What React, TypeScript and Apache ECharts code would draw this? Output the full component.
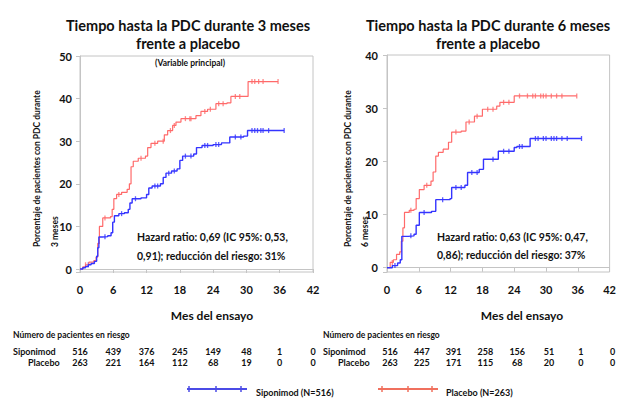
import React, { useEffect, useRef } from 'react';
import * as echarts from 'echarts';

// ---------- data ----------
const monthTicks = [0, 6, 12, 18, 24, 30, 36, 42];

// Kaplan-Meier curves: [month, % with 3-month CDP]
const sipo3: [number, number][] = [
  [0, 0], [0.5, 0.3], [1, 0.6], [1.5, 1], [2, 1.3], [2.6, 1.8], [3, 3], [3.2, 5], [3.4, 7.5],
  [4, 7.6], [5, 7.8], [5.6, 8.5], [5.9, 11], [6.2, 12.5], [7, 13], [8, 13.2], [8.7, 14], [9, 15.5],
  [9.4, 16.5], [11, 16.7], [12, 17.5], [12.4, 19], [13, 19.5], [14.5, 20], [15, 21.5], [15.5, 22.5],
  [16.5, 23], [17.5, 23.5], [18, 25.5], [18.5, 26.5], [20.5, 27], [21, 28.5], [22, 29], [24, 29.2],
  [25.5, 29.6], [27, 31], [29.5, 31.2], [30.2, 32.5], [36.8, 32.5],
];
const plac3: [number, number][] = [
  [0, 0], [0.5, 0.5], [1, 1], [1.6, 1.6], [2.5, 2], [2.9, 2.8], [3.2, 6], [3.5, 10], [4.1, 12],
  [5.5, 12.3], [5.8, 14], [6.1, 16.5], [6.6, 17.5], [7.5, 18], [8.5, 18.7], [8.9, 20], [9.2, 24],
  [9.6, 25.3], [10.5, 26], [11.8, 26.5], [12.2, 28.5], [12.8, 29.5], [14, 30], [15.2, 31.5],
  [15.8, 32.5], [16.7, 33.7], [17.3, 34.5], [18.2, 35.3], [20.9, 36], [21.8, 37], [23, 37.5],
  [24.5, 38.8], [26.5, 39], [27.2, 40.5], [30.3, 44], [35.7, 44],
];
// 6-month CDP
const sipo6: [number, number][] = [
  [0, 0], [1, 0.4], [2, 0.9], [2.5, 1.5], [2.8, 5.9], [4, 6], [5.1, 6.3], [5.5, 8], [6.1, 10.4],
  [8.4, 10.6], [9.2, 12.8], [11.9, 13], [12.2, 15.1], [14.7, 15.5], [15.2, 17.9], [17.4, 18.5],
  [18.2, 20.4], [21, 21.9], [24, 22.6], [24.5, 22.8], [27, 24.3], [36.7, 24.3],
];
const plac6: [number, number][] = [
  [0, 0], [0.6, 1], [1.2, 1.5], [1.8, 2.5], [2.4, 3], [2.7, 5], [3, 7.5], [3.3, 10.4], [4.2, 10.8],
  [5.1, 11], [5.5, 13], [6.1, 14.7], [7, 15.5], [8.3, 16.3], [8.7, 18], [9.2, 21], [9.7, 21.7],
  [10.6, 22.3], [11.6, 23.6], [12.2, 25.5], [14, 25.7], [14.9, 27.4], [16.5, 28.5], [18, 29.8],
  [20.7, 30.4], [21.3, 31.1], [24, 32.3], [35.8, 32.3],
];

// censoring times (months)
const censorSipo3 = [1.5, 4.5, 7.5, 10, 13.5, 14, 16, 17, 19, 20, 22.5, 23, 24.5, 25, 28, 29, 31, 31.5, 32, 32.6, 33, 34, 36.8];
const censorPlac3 = [1, 4.5, 7, 11, 13.5, 15, 16.3, 17, 19, 19.8, 20, 22.5, 23.5, 25, 25.8, 28, 28.8, 31, 31.5, 32.2, 33, 35.7];
const censorSipo6 = [1.5, 4.5, 7, 10.5, 13, 14, 16, 17, 20, 22, 23, 25, 25.5, 28, 28.5, 29.5, 30, 31, 31.5, 32, 33, 34, 36.7];
const censorPlac6 = [1, 4.5, 7.5, 13, 15.5, 17, 19, 20, 22, 23, 25, 26.5, 27.5, 28, 29, 29.5, 30, 31, 32, 33, 35.8];

// patients at risk
const riskSipo3 = [516, 439, 376, 245, 149, 48, 1, 0];
const riskPlac3 = [263, 221, 164, 112, 68, 19, 0, 0];
const riskSipo6 = [516, 447, 391, 258, 156, 51, 1, 0];
const riskPlac6 = [263, 225, 171, 115, 68, 20, 0, 0];

// texts
const title3 = ['Tiempo hasta la PDC durante 3 meses', 'frente a placebo'];
const title6 = ['Tiempo hasta la PDC durante 6 meses', 'frente a placebo'];
const subtitle3 = '(Variable principal)';
const yName = 'Porcentaje de pacientes con PDC durante';
const yName3 = '3 meses';
const yName6 = '6 meses';
const hr3 = ['Hazard ratio: 0,69 (IC 95%: 0,53,', '0,91); reducción del riesgo: 31%'];
const hr6 = ['Hazard ratio: 0,63 (IC 95%: 0,47,', '0,86); reducción del riesgo: 37%'];
const xName = 'Mes del ensayo';
const riskTitle = 'Número de pacientes en riesgo';
const legendSipo = 'Siponimod (N=516)';
const legendPlac = 'Placebo (N=263)';

// ---------- helpers ----------
const FONT = 'Lato, "Noto Sans", sans-serif';
const RED = '#ff6a6a';
const BLUE = '#3434ff';
const AXIS_GRAY = '#c4c4c4';

function levelAt(curve: [number, number][], t: number): number {
  let v = 0;
  for (const [m, p] of curve) {
    if (m <= t) v = p;
    else break;
  }
  return v;
}

function txt(text: string, x: number, y: number, size: number, align: string = 'left', extra: any = {}) {
  return {
    type: 'text',
    x,
    y,
    silent: true,
    ...extra,
    style: {
      text,
      fontFamily: FONT,
      fontWeight: 'bold',
      fontSize: size,
      fill: '#111',
      textAlign: align,
      textVerticalAlign: 'middle',
      ...(extra.style || {}),
    },
  };
}

export default function App() {
  const ref = useRef<HTMLDivElement>(null);

  useEffect(() => {
    if (!ref.current) return;
    const chart = echarts.init(ref.current, undefined, { renderer: 'svg' });

    const axisCommonX = {
      type: 'value',
      min: 0,
      max: 42,
      interval: 6,
      axisLine: { show: true, lineStyle: { color: AXIS_GRAY } },
      axisTick: { show: true, length: 4, lineStyle: { color: AXIS_GRAY } },
      axisLabel: { fontFamily: FONT, fontWeight: 'bold', fontSize: 11, color: '#111', margin: 12 },
      splitLine: { show: false },
    };
    const axisCommonY = {
      type: 'value',
      axisLine: { show: true, lineStyle: { color: AXIS_GRAY } },
      axisTick: { show: true, length: 4, lineStyle: { color: AXIS_GRAY } },
      axisLabel: {
        fontFamily: FONT, fontWeight: 'bold', fontSize: 11, color: '#111', margin: 8,
        formatter: (v: number) => (v < 0 ? '' : String(v)),
      },
      splitLine: { show: false },
    };

    const lineSeries = (data: [number, number][], color: string, idx: number, width: number) => ({
      type: 'line',
      xAxisIndex: idx,
      yAxisIndex: idx,
      data,
      step: 'end',
      showSymbol: false,
      symbol: 'none',
      silent: true,
      lineStyle: { color, width },
      itemStyle: { color },
    });
    const censorSeries = (curve: [number, number][], times: number[], color: string, idx: number) => ({
      type: 'scatter',
      xAxisIndex: idx,
      yAxisIndex: idx,
      data: times.map((t) => [t, levelAt(curve, t)]),
      symbol: 'rect',
      symbolSize: [1.3, 5],
      silent: true,
      itemStyle: { color },
    });

    chart.setOption({
      animation: false,
      backgroundColor: '#ffffff',
      grid: [
        { left: 80, top: 56, width: 233, height: 216, show: true, borderColor: AXIS_GRAY, borderWidth: 1 },
        { left: 387, top: 55, width: 229, height: 217, show: true, borderColor: AXIS_GRAY, borderWidth: 1 },
      ],
      xAxis: [
        { ...axisCommonX, gridIndex: 0 },
        { ...axisCommonX, gridIndex: 1 },
      ],
      yAxis: [
        { ...axisCommonY, gridIndex: 0, min: -0.7, max: 50 },
        { ...axisCommonY, gridIndex: 1, min: -0.8, max: 40, axisLabel: { ...axisCommonY.axisLabel, margin: 9 } },
      ],
      series: [
        lineSeries(plac3, RED, 0, 1.2),
        censorSeries(plac3, censorPlac3, RED, 0),
        lineSeries(sipo3, BLUE, 0, 1.4),
        censorSeries(sipo3, censorSipo3, BLUE, 0),
        lineSeries(plac6, RED, 1, 1.2),
        censorSeries(plac6, censorPlac6, RED, 1),
        lineSeries(sipo6, BLUE, 1, 1.4),
        censorSeries(sipo6, censorSipo6, BLUE, 1),
      ],
    });

    // risk table positions from the axes
    const px = (axis: number, t: number) => chart.convertToPixel({ xAxisIndex: axis }, t) as number;
    const riskEls: any[] = [];
    monthTicks.forEach((t, i) => {
      const x0 = px(0, t);
      const x1 = px(1, t) + 3;
      riskEls.push(txt(String(riskSipo3[i]), x0, 351, 9, 'center'));
      riskEls.push(txt(String(riskPlac3[i]), x0, 362, 9, 'center'));
      riskEls.push(txt(String(riskSipo6[i]), x1, 351, 9, 'center'));
      riskEls.push(txt(String(riskPlac6[i]), x1, 362, 9, 'center'));
    });

    const legendMarks = (x0: number, x1: number, y: number, marks: number[], color: string) => [
      { type: 'line', silent: true, shape: { x1: x0, y1: y, x2: x1, y2: y }, style: { stroke: color, lineWidth: 2 } },
      ...marks.map((m) => ({
        type: 'line', silent: true, shape: { x1: m, y1: y - 3, x2: m, y2: y + 3 }, style: { stroke: color, lineWidth: 1.5 },
      })),
    ];

    chart.setOption({
      graphic: [
        // titles
        txt(title3[0], 188, 25, 14.5, 'center'),
        txt(title3[1], 188, 43, 14.5, 'center'),
        txt(title6[0], 488, 25, 14.5, 'center'),
        txt(title6[1], 488, 43, 14.5, 'center'),
        txt(subtitle3, 190, 63, 8.5, 'center'),
        // y names
        txt(yName, 37, 247, 8.5, 'left', { rotation: Math.PI / 2 }),
        txt(yName3, 55, 247, 8.5, 'left', { rotation: Math.PI / 2 }),
        txt(yName, 348, 247, 8.5, 'left', { rotation: Math.PI / 2 }),
        txt(yName6, 365, 247, 8.5, 'left', { rotation: Math.PI / 2 }),
        // hazard ratio texts
        txt(hr3[0], 137, 237, 10.5),
        txt(hr3[1], 137, 256, 10.5),
        txt(hr6[0], 437, 237, 10.5),
        txt(hr6[1], 437, 255, 10.5),
        // x names
        txt(xName, 212, 315, 12, 'center'),
        txt(xName, 522, 315, 12, 'center'),
        // risk table
        txt(riskTitle, 13, 335, 8.5),
        txt(riskTitle, 323, 335, 8.5),
        txt('Siponimod', 13, 351, 9),
        txt('Placebo', 28, 362, 9),
        txt('Siponimod', 323, 351, 9),
        txt('Placebo', 338, 362, 9),
        ...riskEls,
        // legend
        ...legendMarks(187, 247, 389, [189, 216, 241], '#4b4be6'),
        txt(legendSipo, 256, 392, 9),
        ...legendMarks(378, 438, 389, [382, 408, 432], '#f0705e'),
        txt(legendPlac, 446, 392, 9),
      ],
    });

    return () => chart.dispose();
  }, []);

  return (
    <div
      ref={ref}
      style={{ position: 'fixed', left: 0, top: 0, width: 619, height: 398, background: '#fff' }}
    />
  );
}
